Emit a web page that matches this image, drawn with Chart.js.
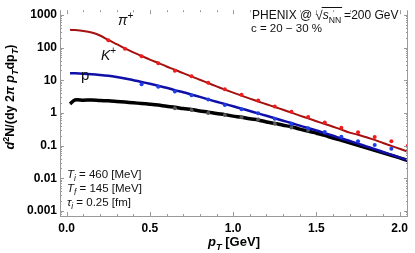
<!DOCTYPE html>
<html>
<head>
<meta charset="utf-8">
<script src="https://cdn.jsdelivr.net/npm/chart.js@4.4.0/dist/chart.umd.min.js"></script>
<style>
  html, body { margin: 0; padding: 0; background: #fff; }
</style>
</head>
<body>
<canvas id="spectraChart" width="415" height="253"></canvas>
<script>
const FONT = '"Liberation Sans", Arial, Helvetica, sans-serif';

// measured points (PHENIX)
const pionPt = [0.25, 0.35, 0.45, 0.55, 0.65, 0.75, 0.85, 0.95, 1.05, 1.15, 1.25, 1.35, 1.45, 1.55, 1.65, 1.75, 1.85, 1.95, 2.05];
const pionData = [168, 92, 54, 33, 19.7, 13.4, 8.4, 5.3, 3.6, 2.4, 1.57, 1.09, 0.75, 0.51, 0.355, 0.258, 0.184, 0.137, 0.1];
const kaonPt = [0.45, 0.55, 0.65, 0.75, 0.85, 0.95, 1.05, 1.15, 1.25, 1.35, 1.45, 1.55, 1.65, 1.75, 1.85, 1.95];
const kaonData = [7.6, 6.3, 4.5, 3.5, 2.6, 1.75, 1.31, 0.98, 0.66, 0.46, 0.34, 0.26, 0.186, 0.135, 0.105, 0.08];
const protonPt = [0.65, 0.75, 0.85, 0.95, 1.05, 1.15, 1.25, 1.35, 1.45];
const protonData = [1.4, 1.23, 1.0, 0.87, 0.74, 0.63, 0.47, 0.36, 0.30];

// model curves
const curvePt = [0.02, 0.05, 0.1, 0.15, 0.2, 0.25, 0.3, 0.35, 0.4, 0.45, 0.5, 0.55, 0.6, 0.65, 0.7, 0.75, 0.8, 0.85, 0.9, 0.95,
  1.0, 1.05, 1.1, 1.15, 1.2, 1.25, 1.3, 1.35, 1.4, 1.45, 1.5, 1.55, 1.6, 1.65, 1.7, 1.75, 1.8, 1.85, 1.9, 1.95, 2.0, 2.05];
const pionCurve = [350, 345, 325, 290, 235, 172, 128, 95, 72, 56, 43, 34, 26.5, 21, 16.5, 13.2, 10.4, 8.2, 6.5, 5.2,
  4.2, 3.4, 2.75, 2.25, 1.85, 1.52, 1.25, 1.02, 0.83, 0.68, 0.56, 0.46, 0.38, 0.31, 0.25, 0.215, 0.18, 0.15, 0.12, 0.098, 0.08, 0.065];
const kaonCurve = [16.5, 16.4, 16, 15.4, 14.6, 13.7, 12.6, 11.4, 10.1, 8.9, 7.8, 6.8, 5.9, 5.0, 4.3, 3.65, 3.1, 2.6, 2.2, 1.88,
  1.6, 1.36, 1.15, 0.97, 0.82, 0.69, 0.58, 0.49, 0.41, 0.345, 0.29, 0.24, 0.2, 0.165, 0.138, 0.115, 0.095, 0.078, 0.064, 0.053, 0.043, 0.036];
const protonCurve = [1.9, 2.5, 2.45, 2.5, 2.4, 2.35, 2.25, 2.15, 2.05, 1.95, 1.85, 1.74, 1.6, 1.5, 1.36, 1.27, 1.15, 1.06, 0.96, 0.89,
  0.8, 0.74, 0.66, 0.61, 0.53, 0.48, 0.42, 0.38, 0.32, 0.28, 0.24, 0.205, 0.17, 0.145, 0.122, 0.102, 0.086, 0.072, 0.06, 0.05, 0.042, 0.035];

const yTicks = [0.001, 0.01, 0.1, 1, 10, 100, 1000];
const xTicks = [0, 0.5, 1, 1.5, 2];

function toXY(xs, ys) {
  return xs.map((x, i) => ({ x: x, y: ys[i] }));
}

// draw text made of pieces (italic / sub / sup)
function drawRich(ctx, x, y, parts, size, weight, align) {
  let w = 0;
  const segs = parts.map((p) => {
    const fs = p.sub || p.sup ? size * 0.72 : size;
    const font = (p.it ? "italic " : "") + weight + " " + fs + "px " + FONT;
    ctx.font = font;
    const s = { t: p.t, font: font, dx: w, dy: p.sub ? size * 0.3 : p.sup ? -size * 0.4 : 0 };
    w += ctx.measureText(p.t).width;
    return s;
  });
  const x0 = align === "center" ? x - w / 2 : x;
  segs.forEach((s) => {
    ctx.font = s.font;
    ctx.fillText(s.t, x0 + s.dx, y + s.dy);
  });
  return { x0: x0, w: w, segs: segs };
}

const framePlugin = {
  id: "framePlugin",
  afterDraw(chart) {
    const ctx = chart.ctx;
    const a = chart.chartArea;
    const xs = chart.scales.x;
    const ys = chart.scales.y;
    ctx.save();
    ctx.strokeStyle = "#9a9a9a";
    ctx.lineWidth = 1;
    ctx.beginPath();
    ctx.moveTo(a.left + 0.5, a.top);
    ctx.lineTo(a.left + 0.5, a.bottom + 0.5);
    ctx.lineTo(a.right - 0.5, a.bottom + 0.5);
    ctx.lineTo(a.right - 0.5, a.top);
    ctx.stroke();

    // x ticks, pointing inward
    ctx.beginPath();
    for (let i = 0; i <= 20; i++) {
      const px = Math.round(xs.getPixelForValue(i / 10)) + 0.5;
      const len = i % 5 === 0 ? 4 : 2;
      ctx.moveTo(px, a.bottom);
      ctx.lineTo(px, a.bottom - len);
      ctx.moveTo(px, a.top);
      ctx.lineTo(px, a.top + len);
    }
    // y ticks
    for (let e = -4; e <= 3; e++) {
      for (let m = 1; m <= 9; m++) {
        const v = m * Math.pow(10, e);
        if (v < ys.min || v > ys.max) continue;
        const py = Math.round(ys.getPixelForValue(v)) + 0.5;
        const len = m === 1 ? 4 : 2;
        ctx.moveTo(a.left, py);
        ctx.lineTo(a.left + len, py);
        ctx.moveTo(a.right, py);
        ctx.lineTo(a.right - len, py);
      }
    }
    ctx.stroke();

    ctx.fillStyle = "#000";
    ctx.textBaseline = "alphabetic";
    // axis titles
    drawRich(ctx, (a.left + a.right) / 2, 246, [
      { t: "p", it: true }, { t: "T", it: true, sub: true }, { t: " [GeV]" }
    ], 13, "bold", "center");

    ctx.save();
    ctx.translate(14, 97);
    ctx.rotate(-Math.PI / 2);
    drawRich(ctx, 0, 0, [
      { t: "d", it: true }, { t: "2", sup: true }, { t: "N/(dy 2" }, { t: "π", it: true },
      { t: " p", it: true }, { t: "T", it: true, sub: true }, { t: "dp" }, { t: "T", it: true, sub: true }, { t: ")" }
    ], 12.5, "bold", "center");
    ctx.restore();

    // curve labels
    ctx.fillStyle = "#111";
    drawRich(ctx, 118, 25, [{ t: "π", it: true }, { t: "+", sup: true }], 14, "normal");
    drawRich(ctx, 101, 60, [{ t: "K", it: true }, { t: "+", sup: true }], 14, "normal");
    drawRich(ctx, 81, 80, [{ t: "p" }], 15, "normal");

    // experiment label
    const r = drawRich(ctx, 252, 19, [{ t: "PHENIX @ " }], 12, "normal");
    ctx.font = "normal 13px " + FONT;
    const cx = r.x0 + r.w;
    ctx.fillText("√", cx, 20);
    const rootW = ctx.measureText("√").width;
    const s = drawRich(ctx, cx + rootW, 19, [{ t: "s", it: true }, { t: "NN", sub: true }], 12, "normal");
    ctx.beginPath();
    ctx.strokeStyle = "#111";
    ctx.moveTo(cx + rootW - 1, 7.5);
    ctx.lineTo(s.x0 + s.w + 1, 7.5);
    ctx.stroke();
    drawRich(ctx, s.x0 + s.w + 3, 19, [{ t: "=200 GeV" }], 12, "normal");
    drawRich(ctx, 251, 32, [{ t: "c = 20 − 30 %" }], 11.5, "normal");

    // model parameters
    drawRich(ctx, 67, 178, [{ t: "T", it: true }, { t: "i", it: true, sub: true }, { t: " = 460 [MeV]" }], 11.5, "normal");
    drawRich(ctx, 67, 192, [{ t: "T", it: true }, { t: "f", it: true, sub: true }, { t: " = 145 [MeV]" }], 11.5, "normal");
    drawRich(ctx, 67, 206, [{ t: "τ", it: true }, { t: "i", it: true, sub: true }, { t: " = 0.25 [fm]" }], 11.5, "normal");
    ctx.restore();
  },
};

const ctx = document.getElementById("spectraChart").getContext("2d");
new Chart(ctx, {
  type: "scatter",
  data: {
    datasets: [
      { data: toXY(pionPt, pionData), backgroundColor: "#f01c1c", pointRadius: 2, borderWidth: 0, order: 0 },
      { data: toXY(kaonPt, kaonData), backgroundColor: "#1f3fe6", pointRadius: 2, borderWidth: 0, order: 0 },
      { data: toXY(protonPt, protonData), backgroundColor: "#555555", pointRadius: 2, borderWidth: 0, order: 0 },
      { data: toXY(curvePt, pionCurve), showLine: true, borderColor: "#a51010", borderWidth: 2, pointRadius: 0, tension: 0.3, order: 1 },
      { data: toXY(curvePt, kaonCurve), showLine: true, borderColor: "#1010a8", borderWidth: 2.5, pointRadius: 0, tension: 0.3, order: 1 },
      { data: toXY(curvePt, protonCurve), showLine: true, borderColor: "#000000", borderWidth: 3.5, pointRadius: 0, tension: 0.3, order: 1 },
    ],
  },
  options: {
    responsive: false,
    animation: false,
    devicePixelRatio: 1,
    layout: { padding: { top: 1, right: 7, left: 0, bottom: 0 } },
    plugins: { legend: { display: false }, tooltip: { enabled: false } },
    scales: {
      x: {
        type: "linear",
        min: -0.04,
        max: 2.05,
        grid: { display: false, drawTicks: false },
        border: { display: false },
        afterBuildTicks: (scale) => { scale.ticks = xTicks.map((v) => ({ value: v })); },
        afterFit: (scale) => { scale.height = 37; },
        ticks: {
          padding: 5,
          color: "#000",
          font: { family: FONT, size: 12, weight: "bold" },
          callback: (v) => Number(v).toFixed(1),
          maxRotation: 0,
        },
      },
      y: {
        type: "logarithmic",
        min: 0.0007,
        max: 1400,
        grid: { display: false, drawTicks: false },
        border: { display: false },
        afterBuildTicks: (scale) => { scale.ticks = yTicks.map((v) => ({ value: v })); },
        afterFit: (scale) => { scale.width = 60; },
        ticks: {
          padding: 3,
          color: "#000",
          font: { family: FONT, size: 12, weight: "bold" },
          callback: (v) => String(v),
        },
      },
    },
  },
  plugins: [framePlugin],
});
</script>
</body>
</html>
